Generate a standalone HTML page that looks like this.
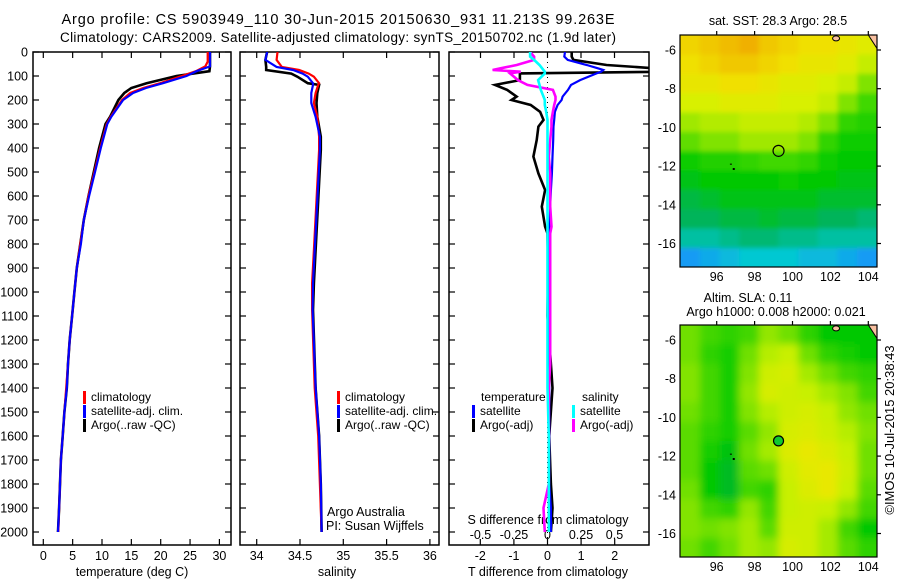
<!DOCTYPE html>
<html><head><meta charset="utf-8">
<style>
html,body{margin:0;padding:0;background:#fff;}
svg{display:block;font-family:"Liberation Sans",Arial,sans-serif;}
text{fill:#000;}
</style></head>
<body>
<svg id="fig" width="900" height="580" viewBox="0 0 900 580" xmlns="http://www.w3.org/2000/svg">
<defs>
<clipPath id="c1"><rect x="33" y="52" width="198" height="493"/></clipPath>
<clipPath id="c2"><rect x="240" y="52" width="199" height="493"/></clipPath>
<clipPath id="c3"><rect x="449" y="52" width="200" height="493"/></clipPath>
<clipPath id="cm1"><rect x="680" y="35" width="197" height="232"/></clipPath>
<clipPath id="cm2"><rect x="680" y="325" width="197" height="232"/></clipPath>
<filter id="b1" x="-5%" y="-5%" width="110%" height="110%"><feGaussianBlur stdDeviation="2.5"/></filter>
<filter id="b2" x="-5%" y="-5%" width="110%" height="110%"><feGaussianBlur stdDeviation="4"/></filter>
</defs>
<text x="338" y="24" font-size="14.5" text-anchor="middle" textLength="553">Argo profile: CS 5903949_110 30-Jun-2015 20150630_931 11.213S 99.263E</text>
<text x="338" y="42" font-size="13.5" text-anchor="middle" textLength="556">Climatology: CARS2009. Satellite-adjusted climatology: synTS_20150702.nc (1.9d later)</text>
<g id="g1"></g>
<g id="g2"></g>
<g id="g3"></g>
<g id="m1"></g>
<g id="m2"></g>
<text transform="translate(894,430) rotate(-90)" font-size="13" text-anchor="middle">©IMOS 10-Jul-2015 20:38:43</text>
</svg>
<script>
// ---------- profile data ----------
var tDepth=[0,20,40,60,80,100,130,150,171,200,269,300,400,500,600,700,800,900,1000,1100,1200,1300,1400,1500,1600,1700,1800,1900,2000];
var tClim=[28.0,28.0,28.0,27.6,26.0,23.6,19.9,17.0,14.8,13.4,11.5,10.8,9.7,8.7,7.7,6.9,6.3,5.7,5.3,4.9,4.5,4.2,3.9,3.6,3.3,3.0,2.85,2.7,2.55];
var tSat=[28.4,28.4,28.4,28.4,26.1,24.4,20.4,17.5,15.3,13.6,11.6,10.9,9.8,8.8,7.8,6.9,6.4,5.7,5.3,4.9,4.5,4.2,4.0,3.6,3.3,3.0,2.85,2.7,2.5];
var tArgo=[28.4,28.4,28.4,28.4,28.3,22.7,17.6,15.0,13.8,12.8,11.4,10.6,9.5,8.6,7.7,6.9,6.3,5.7,5.3,4.9,4.5,4.2,4.0,3.6,3.3,3.0,2.85,2.7,2.5];
var sDepth=[0,33,62,75,90,103,130,137,171,213,270,353,408,617,825,963,1075,1400,1600,1800,2000];
var sClim=[34.24,34.23,34.29,34.49,34.60,34.66,34.72,34.71,34.68,34.66,34.70,34.72,34.72,34.69,34.66,34.64,34.64,34.67,34.71,34.73,34.75];
var sSat=[34.12,34.10,34.23,34.42,34.53,34.59,34.65,34.65,34.63,34.63,34.68,34.73,34.73,34.70,34.67,34.65,34.645,34.68,34.72,34.74,34.75];
var sArgo=[34.12,34.10,34.11,34.11,34.40,34.47,34.59,34.72,34.70,34.69,34.70,34.74,34.74,34.71,34.68,34.66,34.65,34.68,34.72,34.74,34.75];
var dDepth=[0,19,33,54,68,75,82,89,117,137,158,186,200,221,249,283,311,367,436,506,575,644,728,756,900,1100,1300,1400,1600,1800,1900,2000];
var tDiffSat=[0.52,0.5,0.6,1.17,1.5,1.66,1.6,1.46,0.97,0.7,0.61,0.45,0.42,0.3,0.22,0.2,0.18,0.17,0.15,0.13,0.1,0.08,0.06,0.05,0.05,0.05,0.05,0.05,0.05,0.05,0.1,0.1];
var tDiffArgo=[0.72,0.72,0.77,1.76,3.2,3.5,3.5,-0.82,-0.82,-1.56,-1.2,-0.92,-1.07,-0.5,-0.22,-0.12,-0.27,-0.32,-0.42,-0.27,-0.07,-0.17,-0.07,0,0.02,0.0,0.1,0.15,0.05,0.1,0.15,0.1];
var sDiffSat=[-0.13,-0.13,-0.1,-0.06,-0.04,-0.03,-0.02,-0.02,-0.07,-0.06,-0.05,-0.03,-0.02,-0.02,-0.01,0,0,0,0,0,0,0,0,0,0,0,0,0,0.01,0.01,0.01,0.01];
var sDiffArgo=[-0.13,-0.1,-0.1,-0.23,-0.35,-0.41,-0.2,-0.28,-0.22,-0.15,0.04,0.06,0.06,0.05,0.04,0.03,0.03,0.02,0.01,0.02,0.02,0.02,0.03,0.02,0.02,0.02,0.02,0.01,0.01,0.01,-0.03,-0.02];
var depthTicks=[0,100,200,300,400,500,600,700,800,900,1000,1100,1200,1300,1400,1500,1600,1700,1800,1900,2000];
var tempTicks=[0,5,10,15,20,25,30];
var salTicks=[34,34.5,35,35.5,36];
var salTickLabels=["34","34.5","35","35.5","36"];
var tdTicks=[-2,-1,0,1,2];
var sdTicks=[-0.5,-0.25,0,0.25,0.5];
var sdTickLabels=["-0.5","-0.25","0","0.25","0.5"];
// ---------- map data ----------
var mapLonTicks=[96,98,100,102,104];
var mapLatTicks=[-6,-8,-10,-12,-14,-16];
var sstGrid=[
[29.3,29.4,29.5,29.6,29.4,29.3,29.2,29.2,29.1,29.0],
[29.2,29.3,29.4,29.4,29.3,29.2,29.1,29.1,29.0,28.8],
[29.1,29.1,29.2,29.2,29.1,29.0,29.0,28.9,28.8,28.5],
[28.9,28.9,29.0,29.0,29.0,28.9,28.9,28.8,28.5,28.3],
[28.6,28.7,28.7,28.8,28.8,28.8,28.7,28.5,28.2,28.1],
[28.4,28.5,28.5,28.6,28.6,28.6,28.5,28.2,28.0,28.0],
[28.0,28.1,28.1,28.2,28.3,28.3,28.2,28.0,27.9,27.9],
[27.8,27.9,27.9,27.9,27.9,28.0,27.9,27.9,27.8,27.8],
[27.6,27.7,27.8,27.8,27.8,27.8,27.8,27.7,27.7,27.7],
[27.5,27.5,27.6,27.6,27.7,27.6,27.6,27.5,27.5,27.4],
[27.2,27.2,27.3,27.4,27.4,27.3,27.3,27.2,27.2,27.2],
[26.7,26.8,26.9,27.0,27.0,27.0,26.9,26.9,26.8,26.7]];
var slaGrid=[
[0.10,0.08,0.07,0.08,0.12,0.10,0.07,0.05,0.05,0.05],
[0.10,0.07,0.06,0.10,0.14,0.15,0.10,0.07,0.06,0.05],
[0.11,0.08,0.06,0.11,0.16,0.17,0.13,0.10,0.08,0.07],
[0.11,0.08,0.06,0.12,0.17,0.16,0.15,0.13,0.11,0.08],
[0.10,0.08,0.06,0.11,0.14,0.16,0.17,0.15,0.12,0.10],
[0.09,0.07,0.06,0.09,0.12,0.17,0.18,0.16,0.14,0.11],
[0.09,0.06,0.04,0.10,0.13,0.18,0.20,0.18,0.15,0.10],
[0.09,0.05,0.03,0.09,0.10,0.16,0.19,0.20,0.16,0.10],
[0.10,0.05,0.03,0.08,0.07,0.15,0.18,0.20,0.15,0.09],
[0.11,0.08,0.07,0.12,0.08,0.15,0.16,0.15,0.12,0.08],
[0.11,0.10,0.11,0.13,0.09,0.16,0.16,0.13,0.08,0.05],
[0.10,0.08,0.10,0.13,0.12,0.17,0.16,0.13,0.09,0.07]];
var argoLon=99.263, argoLat=-11.213;

var NS="http://www.w3.org/2000/svg";
function mk(tag,attrs,parent){var e=document.createElementNS(NS,tag);for(var k in attrs)e.setAttribute(k,attrs[k]);parent.appendChild(e);return e;}
function dy(d){return 52+d*0.24;}

function frame(g,x0,x1){
  var r=mk('rect',{x:x0,y:52,width:x1-x0,height:493,fill:'none',stroke:'#000','stroke-width':1.5},g);
  
  
  depthTicks.forEach(function(d){
    mk('line',{x1:x0,x2:x0+6,y1:dy(d),y2:dy(d),stroke:'#000','stroke-width':1.2},g);
    mk('line',{x1:x1,x2:x1-6,y1:dy(d),y2:dy(d),stroke:'#000','stroke-width':1.2},g);
  });
}
function xticks(g,vals,labels,fx,ylab){
  vals.forEach(function(v,i){
    var x=fx(v);
    mk('line',{x1:x,x2:x,y1:545,y2:539,stroke:'#000','stroke-width':1.2},g);
    mk('line',{x1:x,x2:x,y1:52,y2:58,stroke:'#000','stroke-width':1.2},g);
    var t=mk('text',{x:x,y:ylab,'font-size':12.5,'text-anchor':'middle'},g);
    t.textContent=labels[i];
    
    
  });
}
function line(g,xs,ds,fx,color,clip,w){
  var pts=xs.map(function(v,i){return fx(v).toFixed(1)+','+dy(ds[i]).toFixed(1);}).join(' ');
  var p=mk('polyline',{points:pts,fill:'none',stroke:color,'stroke-width':w||2.2,'stroke-linejoin':'miter','clip-path':'url(#'+clip+')'},g);
  return p;
}
function legend(g,x,y,color,label){
  mk('rect',{x:x,y:y-10,width:3,height:13,fill:color},g);
  var t=mk('text',{x:x+8,y:y,'font-size':12},g);t.textContent=label;
  
  
}
function txt(g,x,y,s,anchor,size,name){
  var t=mk('text',{x:x,y:y,'font-size':size||12.5,'text-anchor':anchor||'start'},g);t.textContent=s;
  
  
  return t;
}

// panel 1
var g1=document.getElementById('g1');
var fT=function(v){return 43.3+v*5.87;};
frame(g1,33,231);
depthTicks.forEach(function(d){txt(g1,28,dy(d)+4.5,String(d),'end',12.5,'depth-tick-label');});
xticks(g1,tempTicks,tempTicks.map(String),fT,560);
txt(g1,132,576,'temperature (deg C)','middle',12.5,'x-axis-title');
var l;
l=line(g1,tArgo,tDepth,fT,'#000','c1',2.6);
l=line(g1,tClim,tDepth,fT,'#ff0000','c1');
l=line(g1,tSat,tDepth,fT,'#0000ff','c1');
legend(g1,83,401,'#ff0000','climatology');
legend(g1,83,415,'#0000ff','satellite-adj. clim.');
legend(g1,83,429,'#000','Argo(..raw -QC)');

// panel 2
var g2=document.getElementById('g2');
var fS=function(v){return 256.7+(v-34)*86.6;};
frame(g2,240,439);
xticks(g2,salTicks,salTickLabels,fS,560);
txt(g2,337,576,'salinity','middle',12.5,'x-axis-title');
l=line(g2,sArgo,sDepth,fS,'#000','c2',2.6);
l=line(g2,sClim,sDepth,fS,'#ff0000','c2');
l=line(g2,sSat,sDepth,fS,'#0000ff','c2');
legend(g2,337,401,'#ff0000','climatology');
legend(g2,337,415,'#0000ff','satellite-adj. clim.');
legend(g2,337,429,'#000','Argo(..raw -QC)');
txt(g2,327,516,'Argo Australia','start',12.5,'data-source');
txt(g2,326,530,'PI: Susan Wijffels','start',12.5,'principal-investigator');

// panel 3
var g3=document.getElementById('g3');
var fTd=function(v){return 547.5+v*33.6;};
var fSd=function(v){return 547.5+v*134;};
frame(g3,449,649);
tdTicks.forEach(function(v){var x=fTd(v);mk('line',{x1:x,x2:x,y1:545,y2:539,stroke:'#000','stroke-width':1.2},g3);txt(g3,x,560,String(v),'middle',12.5,'t-diff-tick-label');});
sdTicks.forEach(function(v,i){var x=fSd(v);mk('line',{x1:x,x2:x,y1:52,y2:58,stroke:'#000','stroke-width':1.2},g3);txt(g3,x,539,sdTickLabels[i],'middle',12.5,'s-diff-tick-label');});
txt(g3,548,524,'S difference from climatology','middle',12.5,'s-diff-axis-title');
txt(g3,548,576,'T difference from climatology','middle',12.5,'x-axis-title');
mk('line',{x1:fTd(0),x2:fTd(0),y1:52,y2:545,stroke:'#000','stroke-width':1,'stroke-dasharray':'1,4'},g3);
l=line(g3,tDiffArgo,dDepth,fTd,'#000','c3',2.6);
l=line(g3,tDiffSat,dDepth,fTd,'#0000ff','c3');
l=line(g3,sDiffArgo,dDepth,fSd,'#ff00ff','c3',2.6);
l=line(g3,sDiffSat,dDepth,fSd,'#00ffff','c3',2.6);
txt(g3,481,401,'temperature','start',12,'legend-heading');
txt(g3,582,401,'salinity','start',12,'legend-heading');
legend(g3,472,415,'#0000ff','satellite');
legend(g3,472,429,'#000','Argo(-adj)');
legend(g3,572,415,'#00ffff','satellite');
legend(g3,572,429,'#ff00ff','Argo(-adj)');

// maps
function lerpColor(stops,v){
  if(v<=stops[0][0])return stops[0][1];
  for(var i=1;i<stops.length;i++){if(v<=stops[i][0]){var a=stops[i-1],b=stops[i],t=(v-a[0])/(b[0]-a[0]);
    var c=[0,1,2].map(function(k){return Math.round(a[1][k]+(b[1][k]-a[1][k])*t);});return c;}}
  return stops[stops.length-1][1];
}
var sstStops=[[26.6,[30,140,255]],[27.0,[0,200,210]],[27.5,[0,180,90]],[27.9,[0,200,0]],[28.3,[64,216,0]],[28.6,[160,232,0]],[28.9,[216,240,0]],[29.2,[240,224,0]],[29.6,[240,176,0]]];
var slaStops=[[0.0,[0,168,80]],[0.05,[0,200,0]],[0.1,[112,224,0]],[0.15,[200,240,0]],[0.2,[232,232,0]],[0.25,[240,208,0]]];
function drawMap(id,top,grid,stops,clip,blur,filledMarker){
  var g=document.getElementById(id);
  var fx=function(lon){return 716.7+(lon-96)*18.95;};
  var fy=function(lat){return top+(-6-lat)*19.35;};
  var y0=top-15;
  var cells=mk('g',{'clip-path':'url(#'+clip+')'},g);
  var inner=mk('g',{filter:'url(#'+blur+')'},cells);
  grid.forEach(function(row,j){
    row.forEach(function(v,i){
      var lon0=94.07+i*1.039, lat0=-5.22-j*1.0017;
      var x=fx(lon0)-(i==0?8:0), y=fy(lat0)-(j==0?8:0);
      var w=fx(lon0+1.039)-fx(lon0)+0.6+(i==0||i==row.length-1?8:0);
      var h=fy(lat0-1.0017)-fy(lat0)+0.6+(j==0||j==grid.length-1?8:0);
      var c=lerpColor(stops,v);
      var r=mk('rect',{x:x.toFixed(1),y:y.toFixed(1),width:w.toFixed(1),height:h.toFixed(1),fill:'rgb('+c.join(',')+')'},inner);
      
      
    });
  });
  mk('polygon',{points:fx(104.0)+','+y0+' 878,'+y0+' 878,'+fy(-6.0),fill:'#f8c0a0',stroke:'#000','stroke-width':1},cells);
  mk('ellipse',{cx:fx(102.3),cy:fy(-5.4),rx:3.5,ry:2.5,fill:'#f8c0a0',stroke:'#000','stroke-width':1},cells);
  mk('rect',{x:fx(96.9)-1,y:fy(-12.15)-1,width:2,height:2,fill:'#000'},cells);
  mk('rect',{x:fx(96.75)-1,y:fy(-11.9)-0.5,width:2,height:1,fill:'#000'},cells);
  var m=mk('circle',{cx:fx(argoLon),cy:fy(argoLat),r:filledMarker?5:5.5,fill:filledMarker?'#10c830':'none',stroke:'#000','stroke-width':1.2},g);
  
  
  var fr=mk('rect',{x:680,y:y0,width:197,height:232,fill:'none',stroke:'#000','stroke-width':1.2},g);
  
  
  mapLatTicks.forEach(function(lat){var y=fy(lat);
    mk('line',{x1:877,x2:881,y1:y,y2:y,stroke:'#000','stroke-width':1.2},g);
    txt(g,676,y+4.5,String(lat),'end',12.5,'lat-tick-label');});
  mapLonTicks.forEach(function(lon){var x=fx(lon);
    mk('line',{x1:x,x2:x,y1:y0,y2:y0-4,stroke:'#000','stroke-width':1.2},g);
    txt(g,x,y0+232+14,String(lon),'middle',12.5,'lon-tick-label');});
  return g;
}
var gm1=drawMap('m1',50,sstGrid,sstStops,'cm1','b1',false);
txt(gm1,778,25,'sat. SST: 28.3 Argo: 28.5','middle',12.5,'sst-map-title');
var gm2=drawMap('m2',340,slaGrid,slaStops,'cm2','b2',true);
txt(gm2,748,302,'Altim. SLA: 0.11','middle',12.5,'sla-map-title');
txt(gm2,776,316,'Argo h1000: 0.008 h2000: 0.021','middle',12.5,'sla-map-subtitle');
</script>
</body></html>
